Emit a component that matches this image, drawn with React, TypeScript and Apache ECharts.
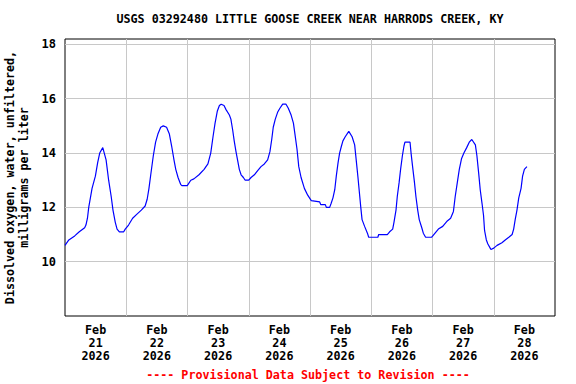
import React, { useEffect, useRef } from "react";
import * as echarts from "echarts";

const TITLE = "USGS 03292480 LITTLE GOOSE CREEK NEAR HARRODS CREEK, KY";
const Y_NAME = "Dissolved oxygen, water, unfiltered,\nmilligrams per liter";
const FOOTER = "---- Provisional Data Subject to Revision ----";
const DAY_LABELS = ["Feb\n21\n2026", "Feb\n22\n2026", "Feb\n23\n2026", "Feb\n24\n2026", "Feb\n25\n2026", "Feb\n26\n2026", "Feb\n27\n2026", "Feb\n28\n2026"];
const Y_TICKS = [10, 12, 14, 16, 18];

// hours since Feb 21 2026 00:00
const hours = [
  0, 1.5, 3.8, 5.6, 7.7, 8.2, 8.8, 9.3, 10.6, 11.9, 12.8, 13.6, 14.8, 16.1, 17.1, 18.1, 18.8, 19.7, 20.4, 21.3, 23.0, 23.6, 24.9, 26.5, 28.2, 29.9, 31.4,
  32.2, 32.9, 33.6, 34.6, 35.5, 36.4, 37.5, 38.5, 39.8, 40.9, 41.8, 42.7, 43.4, 44.3, 45.3, 45.8, 47.9, 49.3, 50.5, 52.5, 54.5, 56.0, 57.1, 58.0, 58.8, 59.7,
  60.5, 61.2, 62.3, 63.1, 64.4, 65.0, 65.7, 66.3, 67.0, 67.7, 68.3, 69.0, 69.9, 70.6, 72.0, 72.9, 74.2, 75.5, 76.8, 78.1, 79.4, 80.3, 81.0, 81.6, 82.4, 83.3, 84.2,
  85.3, 86.6, 87.5, 88.6, 89.5, 90.1, 90.9, 91.6, 92.5, 93.8, 95.1,
  96.5, 99.8, 100.2, 102.0, 102.4, 103.7, 104.3, 105.0, 105.7, 106.3, 107.0, 107.6, 108.3, 108.9, 109.8, 111.2, 112.5, 113.5, 114.1, 114.8, 115.5, 115.9,
  116.4, 117.4, 118.5, 119.0, 122.6, 122.9, 126.3, 127.2,
  128.4, 128.9, 129.7, 130.2, 130.9, 131.5, 132.2, 132.8, 133.2, 135.2, 135.6, 136.2, 136.9, 137.5, 138.2, 138.8, 139.8, 140.4, 141.3, 143.7, 145.0, 146.3,
  148.0, 149.8, 151.1, 152.2, 152.9, 153.7, 154.5, 155.4, 156.3, 157.4, 158.4, 159.4,
  160.8, 161.4, 162.1, 162.7, 163.4, 164.0, 164.4, 165.1, 165.7, 166.6, 166.9, 168.0, 169.3, 171.2, 172.5, 173.9, 175.2, 175.8, 176.4, 177.1, 177.8, 178.7,
  179.3, 180.0, 181.0,
];

// dissolved oxygen, mg/L
const oxygen = [
  10.6, 10.8, 10.95, 11.1, 11.25, 11.35, 11.6, 12.0, 12.7, 13.15, 13.65, 14.0, 14.2, 13.75, 13.0, 12.4, 11.9, 11.45, 11.2, 11.1, 11.1, 11.2, 11.35, 11.6, 11.75, 11.9, 12.05,
  12.3, 12.7, 13.2, 13.9, 14.4, 14.7, 14.95, 15.0, 14.95, 14.7, 14.25, 13.75, 13.4, 13.1, 12.85, 12.8, 12.8, 13.0, 13.05, 13.2, 13.4, 13.6, 14.0, 14.6, 15.1, 15.55,
  15.75, 15.8, 15.75, 15.6, 15.4, 15.25, 14.85, 14.45, 14.05, 13.7, 13.4, 13.2, 13.1, 13.0, 13.0, 13.1, 13.2, 13.35, 13.5, 13.6, 13.75, 14.05, 14.5, 14.95, 15.25, 15.5, 15.65,
  15.8, 15.8, 15.65, 15.4, 15.1, 14.7, 14.15, 13.5, 13.1, 12.7, 12.45,
  12.25, 12.2, 12.1, 12.1, 12.0, 12.0, 12.15, 12.35, 12.65, 13.15, 13.65, 14.0, 14.25, 14.45, 14.6, 14.8, 14.6, 14.3, 13.75, 13.1, 12.4, 12.0,
  11.55, 11.3, 11.05, 10.9, 10.9, 11.0, 11.0, 11.1,
  11.2, 11.45, 11.9, 12.4, 12.9, 13.4, 13.9, 14.25, 14.4, 14.4, 14.0, 13.5, 12.95, 12.4, 11.9, 11.55, 11.25, 11.05, 10.9, 10.9, 11.05, 11.2,
  11.3, 11.5, 11.6, 11.85, 12.4, 12.9, 13.4, 13.8, 14.0, 14.2, 14.4, 14.5,
  14.3, 13.9, 13.25, 12.65, 12.15, 11.7, 11.15, 10.8, 10.65, 10.5, 10.45, 10.5, 10.6, 10.7, 10.8, 10.9, 11.0, 11.2, 11.55, 11.9, 12.35, 12.7,
  13.15, 13.4, 13.5,
];

const FONT = "DejaVu Sans Mono";

export default function App() {
  const ref = useRef<HTMLDivElement>(null);
  useEffect(() => {
    document.body.style.margin = "0";
    const chart = echarts.init(ref.current!, null, { renderer: "svg" });
    const data = hours.map((h, i) => [h, oxygen[i]]);
    chart.setOption({
      animation: false,
      backgroundColor: "#ffffff",
      grid: {
        left: 65,
        right: 21,
        top: 39,
        bottom: 68,
        show: true,
        borderColor: "#000000",
        borderWidth: 1,
        backgroundColor: "transparent",
        outerBoundsMode: "none",
        containLabel: false,
      },
      xAxis: [
        {
          type: "value",
          min: 0,
          max: 192,
          interval: 24,
          position: "bottom",
          axisLine: { show: false },
          axisTick: { show: false },
          axisLabel: { show: false },
          splitLine: { show: true, showMinLine: false, showMaxLine: false, lineStyle: { color: "#c8c8c8", width: 1 } },
        },
        {
          type: "category",
          data: DAY_LABELS,
          position: "bottom",
          boundaryGap: true,
          axisLine: { show: false },
          axisTick: { show: false },
          splitLine: { show: false },
          axisLabel: {
            margin: 8,
            fontFamily: FONT,
            fontWeight: "bold",
            fontSize: 11.7,
            lineHeight: 12.7,
            color: "#000000",
          },
        },
      ],
      yAxis: {
        type: "value",
        min: 8,
        max: 18.2,
        interval: 2,
        name: Y_NAME,
        nameLocation: "middle",
        nameGap: 33,
        nameTextStyle: {
          fontFamily: FONT,
          fontWeight: "bold",
          fontSize: 11.7,
          lineHeight: 13.5,
          color: "#000000",
        },
        axisLine: { show: false },
        axisTick: { show: false },
        axisLabel: {
          margin: 9,
          fontFamily: FONT,
          fontWeight: "bold",
          fontSize: 12,
          color: "#000000",
          formatter: (v: number) => (Y_TICKS.some((t) => Math.abs(t - v) < 1e-6) ? String(Math.round(v)) : ""),
        },
        splitLine: { show: true, showMinLine: false, showMaxLine: false, lineStyle: { color: "#c8c8c8", width: 1 } },
      },
      graphic: [
        {
          type: "text",
          x: 310,
          y: 19,
          style: {
            text: TITLE,
            textAlign: "center",
            textVerticalAlign: "middle",
            fontFamily: FONT,
            fontWeight: "bold",
            fontSize: 11.7,
            fill: "#000000",
          },
        },
        {
          type: "text",
          x: 308,
          y: 375,
          style: {
            text: FOOTER,
            textAlign: "center",
            textVerticalAlign: "middle",
            fontFamily: FONT,
            fontWeight: "bold",
            fontSize: 11.7,
            fill: "#ff0000",
          },
        },
      ],
      series: [
        {
          type: "line",
          xAxisIndex: 0,
          data,
          showSymbol: false,
          symbol: "none",
          lineStyle: { color: "#0000ff", width: 1.2 },
        },
      ],
    });
    return () => chart.dispose();
  }, []);
  return <div ref={ref} style={{ width: 576, height: 384 }} />;
}
